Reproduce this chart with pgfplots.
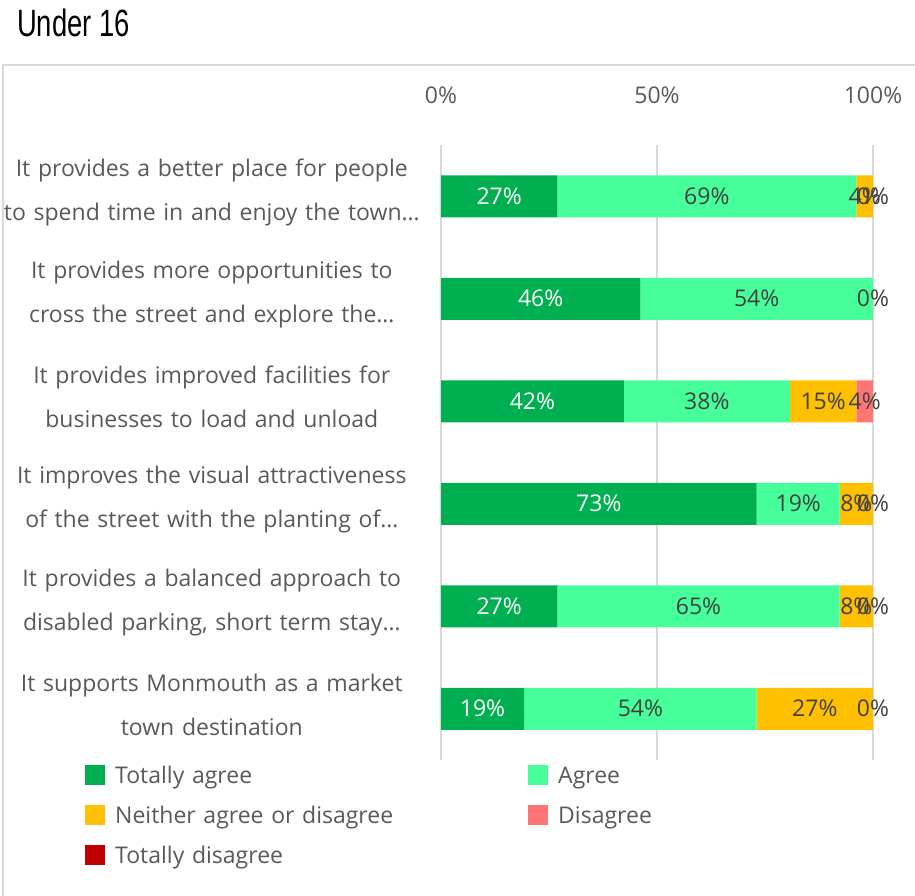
\documentclass[border=0pt]{standalone}
\usepackage{pgfplots}
\pgfplotsset{compat=1.18}
\usepackage{pgfplotstable}
\usepackage{fontspec}
\setmainfont{Open Sans}
\newfontfamily\titlefont{Liberation Sans}
\definecolor{cTA}{HTML}{00B050}
\definecolor{cAG}{HTML}{47FF9A}
\definecolor{cNE}{HTML}{FFC000}
\definecolor{cDI}{HTML}{FF7575}
\definecolor{cTD}{HTML}{C00000}
\definecolor{txt}{HTML}{595959}
\definecolor{lbl}{HTML}{404040}
\definecolor{gridc}{HTML}{D9D9D9}

% shares in percent; "Disagree" zeros are written 0.001 so that their 0% label is drawn
\pgfplotstableread{
y ta ag ne di td
0 26.92 69.22 3.85 0.001 0
1 46.15 53.84 0 0.001 0
2 42.31 38.46 15.38 3.84 0
3 73.08 19.22 7.69 0.001 0
4 26.92 65.38 7.69 0.001 0
5 19.23 53.84 26.92 0.001 0
}\datatable

\newcommand{\fs}{\fontsize{23}{44}\selectfont}
\newcommand{\seglbl}{\pgfmathfloattofixed{\pgfplotspointmeta}\edef\v{\pgfmathresult}%
  \pgfmathprintnumber[fixed,precision=0,assume math mode=true]{\v}\%}
\newcommand{\seglblnz}{\pgfmathfloattofixed{\pgfplotspointmeta}\edef\v{\pgfmathresult}%
  \ifdim\v pt>0.5pt\relax\pgfmathprintnumber[fixed,precision=0,assume math mode=true]{\v}\%\fi}

\pgfplotsset{
  lbl/.style={
    point meta=explicit,
    every node near coord/.append style={anchor=center, inner sep=0pt,
      font=\fs, text=lbl},
  },
}

\begin{document}
\begin{tikzpicture}
\useasboundingbox (0pt,0pt) rectangle (915pt,-895pt);
\draw[gridc, line width=2pt] (3pt,-900pt) -- (3pt,-65pt) -- (920pt,-65pt);
\node[anchor=west, inner sep=0pt] at (17pt,-23pt) {\scalebox{0.72}[1]{\titlefont\fontsize{38}{40}\selectfont Under 16}};
\begin{axis}[
  at={(441pt,-760pt)}, anchor=south west,
  scale only axis, width=432pt, height=615pt,
  xbar stacked, bar width=42pt,
  xmin=0, xmax=100, ymin=-0.5, ymax=5.5, y dir=reverse,
  clip=false,
  axis line style={draw=none},
  major tick style={draw=none},
  xtick={0,50,100}, xticklabels={0\%,50\%,100\%},
  xticklabel pos=upper,
  xticklabel style={font=\fs, text=txt, yshift=38pt},
  xmajorgrids, grid style={gridc, line width=1.5pt},
  ytick={0,1,2,3,4,5},
  yticklabels={
    {It provides a better place for people\\to spend time in and enjoy the town\dots},
    {It provides more opportunities to\\cross the street and explore the\dots},
    {It provides improved facilities for\\businesses to load and unload},
    {It improves the visual attractiveness\\of the street with the planting of\dots},
    {It provides a balanced approach to\\disabled parking, short term stay\dots},
    {It supports Monmouth as a market\\town destination}},
  yticklabel style={font=\fs, text=txt, align=center, text width=440pt, inner sep=0pt, xshift=-9pt, yshift=4pt},
  legend columns=2,
  legend cell align=left,
  legend style={at={(axis description cs:-0.824,-0.008)}, anchor=north west,
    draw=none, fill=none, font=\fs, text=txt, inner sep=0pt,
    row sep=20pt,
    nodes={inner sep=0pt, text depth=0pt, text width=403pt},
    /tikz/every odd column/.append style={column sep=10pt},
    /tikz/every even column/.append style={column sep=10pt}},
  legend image code/.code={\fill[#1] (0pt,-10pt) rectangle (20pt,10pt);},
]
\addplot[fill=cTA, draw=none, lbl, nodes near coords=\seglbl, every node near coord/.append style={text=white}] table[x=ta, y=y, meta=ta]{\datatable};
\addplot[fill=cAG, draw=none, lbl, nodes near coords=\seglbl] table[x=ag, y=y, meta=ag]{\datatable};
\addplot[fill=cNE, draw=none, lbl, nodes near coords=\seglblnz] table[x=ne, y=y, meta=ne]{\datatable};
\addplot[fill=cDI, draw=none, lbl, nodes near coords=\seglbl] table[x=di, y=y, meta=di]{\datatable};
\addplot[fill=cTD, draw=none] table[x=td, y=y]{\datatable};
\legend{Totally agree, Agree, Neither agree or disagree, Disagree, Totally disagree}
\end{axis}
\end{tikzpicture}
\end{document}
